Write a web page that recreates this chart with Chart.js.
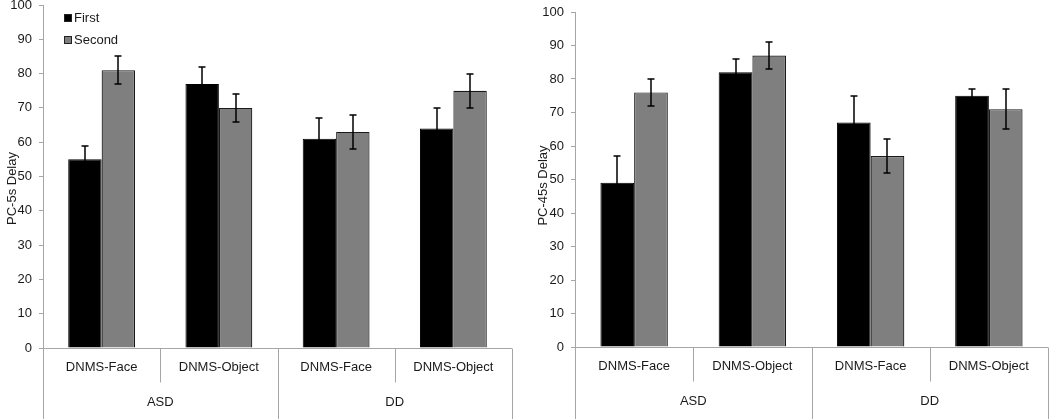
<!DOCTYPE html>
<html>
<head>
<meta charset="utf-8">
<script src="https://cdn.jsdelivr.net/npm/chart.js@4"></script>
<style>
  html, body { margin: 0; padding: 0; background: #fff; }
  #wrap { position: relative; width: 1050px; height: 419px; }
  .panel { position: absolute; top: 0; width: 525px; height: 419px; }
  #p1 { left: 0; }
  #p2 { left: 525px; }
</style>
</head>
<body>
<div id="wrap">
  <div class="panel" id="p1"><canvas id="c1" width="525" height="419"></canvas></div>
  <div class="panel" id="p2"><canvas id="c2" width="525" height="419"></canvas></div>
</div>
<script>
// ---- data ----
const categories = ['DNMS-Face', 'DNMS-Object', 'DNMS-Face', 'DNMS-Object'];
const groupOf = ['ASD', 'ASD', 'DD', 'DD'];
const seriesNames = ['First', 'Second'];

const pc5First = [55, 77, 61, 64];
const pc5Second = [81, 70, 63, 75];
const pc5FirstErr = [4, 5, 6, 6];
const pc5SecondErr = [4, 4, 5, 5];

const pc45First = [49, 82, 67, 75];
const pc45Second = [76, 87, 57, 71];
const pc45FirstErr = [8, 4, 8, 2];
const pc45SecondErr = [4, 4, 5, 6];

const yMin = 0, yMax = 100, yStep = 10;
const yTitles = ['PC-5s Delay', 'PC-45s Delay'];

// ---- style ----
const FONT = '"Liberation Sans", Arial, sans-serif';
const AXIS_GRAY = '#a6a6a6';
const TEXT = '#1a1a1a';
const colors = ['#000000', '#7f7f7f'];

Chart.defaults.font.family = FONT;
Chart.defaults.font.size = 13;
Chart.defaults.color = TEXT;

const extras = {
  id: 'extras',
  afterDatasetsDraw(chart) {
    const ctx = chart.ctx;
    const y = chart.scales.y;
    ctx.save();
    ctx.strokeStyle = '#000';
    ctx.lineWidth = 1.5;
    chart.data.datasets.forEach((ds, di) => {
      const meta = chart.getDatasetMeta(di);
      meta.data.forEach((bar, i) => {
        const v = ds.data[i], e = ds.errors[i];
        const yt = Math.round(y.getPixelForValue(v + e));
        const yb = Math.round(y.getPixelForValue(v - e));
        const x = Math.round(bar.x);
        ctx.beginPath();
        ctx.moveTo(x, yt); ctx.lineTo(x, yb);
        ctx.moveTo(x - 3.5, yt); ctx.lineTo(x + 3.5, yt);
        ctx.moveTo(x - 3.5, yb); ctx.lineTo(x + 3.5, yb);
        ctx.stroke();
      });
    });
    ctx.restore();
  },
  afterDraw(chart, args, opts) {
    const ctx = chart.ctx;
    const xs = chart.scales.x;
    const area = chart.chartArea;
    const bottom = Math.round(area.bottom) + 0.5;
    const n = categories.length;
    const w = xs.getPixelForValue(1) - xs.getPixelForValue(0);
    ctx.save();
    // horizontal axis line
    ctx.strokeStyle = AXIS_GRAY;
    ctx.lineWidth = 1;
    ctx.beginPath();
    ctx.moveTo(area.left, bottom); ctx.lineTo(area.right, bottom);
    ctx.stroke();
    // dividers
    for (let i = 0; i <= n; i++) {
      const bx = Math.round(i < n ? xs.getPixelForValue(i) - w / 2 : xs.getPixelForValue(n - 1) + w / 2) + 0.5;
      const isGroup = (i === 0 || i === n || groupOf[i] !== groupOf[i - 1]);
      ctx.beginPath();
      ctx.moveTo(bx, bottom);
      ctx.lineTo(bx, isGroup ? chart.height : bottom + 34);
      ctx.stroke();
    }
    // category labels
    ctx.fillStyle = TEXT;
    ctx.font = '13px ' + FONT;
    ctx.textAlign = 'center';
    ctx.textBaseline = 'middle';
    categories.forEach((c, i) => {
      ctx.fillText(c, xs.getPixelForValue(i), bottom + 19);
    });
    // group labels
    const seen = [];
    groupOf.forEach(g => { if (!seen.includes(g)) seen.push(g); });
    seen.forEach(g => {
      const idx = groupOf.map((v, i) => v === g ? i : -1).filter(i => i >= 0);
      const cx = (xs.getPixelForValue(idx[0]) + xs.getPixelForValue(idx[idx.length - 1])) / 2;
      ctx.fillText(g, cx, bottom + 54);
    });
    // y title
    ctx.save();
    ctx.translate(opts.titleX, (area.top + area.bottom) / 2 + opts.titleDY);
    ctx.rotate(-Math.PI / 2);
    ctx.fillText(opts.title, 0, 0);
    ctx.restore();
    // legend
    if (opts.legend) {
      ctx.textAlign = 'left';
      chart.data.datasets.forEach((ds, di) => {
        const ly = area.top + 13 + di * 22;
        ctx.fillStyle = ds.backgroundColor;
        ctx.fillRect(area.left + 21, ly - 4, 8, 8);
        ctx.strokeStyle = '#222';
        ctx.lineWidth = 1;
        ctx.strokeRect(area.left + 21.5, ly - 3.5, 7, 7);
        ctx.fillStyle = TEXT;
        ctx.fillText(ds.label, area.left + 31, ly);
      });
    }
    ctx.restore();
  }
};

function makeChart(id, first, second, firstErr, secondErr, opts) {
  return new Chart(document.getElementById(id), {
    type: 'bar',
    data: {
      labels: categories,
      datasets: [
        { label: seriesNames[0], data: first, errors: firstErr, backgroundColor: colors[0], borderColor: '#000', borderWidth: 1 },
        { label: seriesNames[1], data: second, errors: secondErr, backgroundColor: colors[1], borderColor: '#1a1a1a', borderWidth: 1.2 }
      ]
    },
    options: {
      responsive: false,
      animation: false,
      events: [],
      layout: { padding: opts.padding },
      datasets: { bar: { categoryPercentage: 0.57, barPercentage: 1.0 } },
      plugins: {
        legend: { display: false },
        tooltip: { enabled: false },
        extras: { title: opts.title, titleX: opts.titleX, titleDY: opts.titleDY, legend: opts.legend }
      },
      scales: {
        x: { display: false, offset: true },
        y: {
          min: yMin, max: yMax,
          ticks: { stepSize: yStep, padding: 7, color: TEXT, font: { size: 13, family: FONT } },
          grid: { drawOnChartArea: false, drawTicks: true, tickLength: 4, color: AXIS_GRAY },
          border: { color: AXIS_GRAY, width: 1 },
          afterFit(scale) {
            scale.width = opts.yWidth;
            scale.paddingTop = 0;
            scale.paddingBottom = 0;
          }
        }
      }
    },
    plugins: [extras]
  });
}

makeChart('c1', pc5First, pc5Second, pc5FirstErr, pc5SecondErr, {
  padding: { top: 5, bottom: 71, left: 0, right: 13 },
  yWidth: 43, title: yTitles[0], titleX: 12, titleDY: 12, legend: true
});
makeChart('c2', pc45First, pc45Second, pc45FirstErr, pc45SecondErr, {
  padding: { top: 12, bottom: 72, left: 0, right: 2 },
  yWidth: 50, title: yTitles[1], titleX: 18, titleDY: 6, legend: false
});
</script>
</body>
</html>
